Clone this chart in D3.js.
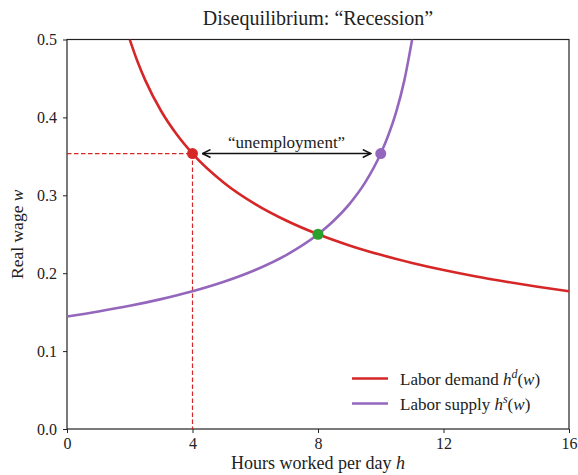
<!DOCTYPE html>
<html>
<head>
<meta charset="utf-8">
<script src="https://cdn.jsdelivr.net/npm/d3@7"></script>
<style>
  body { margin: 0; background: #fff; }
  svg text { font-family: "Liberation Serif", "DejaVu Serif", serif; fill: #222; }
</style>
</head>
<body>
<div id="chart"></div>
<script>
// values
const demandH = [2, 2.25, 2.5, 3, 3.5, 4, 5, 6, 7, 8, 9, 10, 11, 12, 13, 14, 15, 16];
const demandW = [0.5, 0.4714, 0.4472, 0.4082, 0.378, 0.3536, 0.3162, 0.2887, 0.2673, 0.25,
                 0.2357, 0.2236, 0.2132, 0.2041, 0.1961, 0.189, 0.1826, 0.1768];
const supplyH = [0, 1, 2, 3, 4, 5, 6, 7, 8, 8.5, 9, 9.5, 10, 10.25, 10.5, 10.75, 11];
const supplyW = [0.1443, 0.1508, 0.1581, 0.1667, 0.1768, 0.189, 0.2041, 0.2236, 0.25, 0.2673,
                 0.2887, 0.3162, 0.3536, 0.378, 0.4082, 0.4472, 0.5];
const xTicks = [0, 4, 8, 12, 16];
const yTicks = [0.0, 0.1, 0.2, 0.3, 0.4, 0.5];
const fixedWage = 0.3536;
const demandAtWage = 4;
const supplyAtWage = 10;
const equilibrium = [8, 0.25];

const width = 578, height = 475;
const margin = {left: 67, right: 9, top: 39.5, bottom: 46};
const red = "#d62728", purple = "#9467bd", green = "#2ca02c";

const svg = d3.select("#chart").append("svg")
    .attr("width", width)
    .attr("height", height);

const x = d3.scaleLinear().domain([0, 16]).range([margin.left, width - margin.right]);
const y = d3.scaleLinear().domain([0, 0.5]).range([height - margin.bottom, margin.top]);

svg.append("defs").append("clipPath").attr("id", "clip")
  .append("rect")
    .attr("x", x(0)).attr("y", y(0.5))
    .attr("width", x(16) - x(0)).attr("height", y(0) - y(0.5));

// axes
const xAxis = svg.append("g")
    .attr("transform", `translate(0,${y(0)})`)
    .call(d3.axisBottom(x).tickValues(xTicks).tickSize(4).tickPadding(5).tickFormat(d3.format("d")));
const yAxis = svg.append("g")
    .attr("transform", `translate(${x(0)},0)`)
    .call(d3.axisLeft(y).tickValues(yTicks).tickSize(4).tickPadding(6).tickFormat(d3.format(".1f")));
[xAxis, yAxis].forEach(g => {
  g.attr("font-family", "Liberation Serif").attr("font-size", 16);
  g.select(".domain").remove();
  g.selectAll(".tick line").attr("stroke", "#222").attr("stroke-width", 1);
  g.selectAll(".tick text").attr("fill", "#222");
});

// frame
svg.append("rect")
    .attr("x", x(0)).attr("y", y(0.5))
    .attr("width", x(16) - x(0)).attr("height", y(0) - y(0.5))
    .attr("fill", "none").attr("stroke", "#222").attr("stroke-width", 1.2);

const plot = svg.append("g").attr("clip-path", "url(#clip)");

// dashed guides
plot.append("line")
    .attr("x1", x(0)).attr("x2", x(demandAtWage))
    .attr("y1", y(fixedWage)).attr("y2", y(fixedWage))
    .attr("stroke", red).attr("stroke-width", 1.2).attr("stroke-dasharray", "4.5,2.5");
plot.append("line")
    .attr("x1", x(demandAtWage)).attr("x2", x(demandAtWage))
    .attr("y1", y(fixedWage)).attr("y2", y(0))
    .attr("stroke", red).attr("stroke-width", 1.2).attr("stroke-dasharray", "4.5,2.5");

const line = d3.line()
    .x(d => x(d[0]))
    .y(d => y(d[1]))
    .curve(d3.curveMonotoneX);

plot.append("path")
    .datum(d3.zip(demandH, demandW))
    .attr("d", line)
    .attr("fill", "none").attr("stroke", red).attr("stroke-width", 2.6);
plot.append("path")
    .datum(d3.zip(supplyH, supplyW))
    .attr("d", line)
    .attr("fill", "none").attr("stroke", purple).attr("stroke-width", 2.6);

// unemployment arrow
svg.append("defs").append("marker")
    .attr("id", "head")
    .attr("viewBox", "0 0 10 10")
    .attr("refX", 9).attr("refY", 5)
    .attr("markerWidth", 10).attr("markerHeight", 10)
    .attr("markerUnits", "userSpaceOnUse")
    .attr("orient", "auto-start-reverse")
  .append("path")
    .attr("d", "M1,1 L9,5 L1,9")
    .attr("fill", "none").attr("stroke", "#111").attr("stroke-width", 1.5);

svg.append("line")
    .attr("x1", x(demandAtWage) + 10).attr("x2", x(supplyAtWage) - 10)
    .attr("y1", y(fixedWage)).attr("y2", y(fixedWage))
    .attr("stroke", "#111").attr("stroke-width", 1.5)
    .attr("marker-start", "url(#head)")
    .attr("marker-end", "url(#head)");

svg.append("text")
    .attr("x", (x(demandAtWage) + x(supplyAtWage)) / 2)
    .attr("y", y(fixedWage) - 6)
    .attr("text-anchor", "middle")
    .attr("font-size", 17)
    .text("“unemployment”");

// points
const dots = [[demandAtWage, fixedWage, red], [supplyAtWage, fixedWage, purple], [equilibrium[0], equilibrium[1], green]];
svg.selectAll(".dot")
  .data(dots)
  .enter().append("circle")
    .attr("class", "dot")
    .attr("cx", d => x(d[0]))
    .attr("cy", d => y(d[1]))
    .attr("r", 5.5)
    .attr("fill", d => d[2]);

// title and axis labels
svg.append("text")
    .attr("x", (x(0) + x(16)) / 2)
    .attr("y", 25)
    .attr("text-anchor", "middle")
    .attr("font-size", 20)
    .text("Disequilibrium:  “Recession”");

const xl = svg.append("text")
    .attr("x", (x(0) + x(16)) / 2)
    .attr("y", 469)
    .attr("text-anchor", "middle")
    .attr("font-size", 18);
xl.append("tspan").text("Hours worked per day ");
xl.append("tspan").attr("font-style", "italic").text("h");

const yl = svg.append("text")
    .attr("transform", `translate(23,${(y(0) + y(0.5)) / 2}) rotate(-90)`)
    .attr("text-anchor", "middle")
    .attr("font-size", 17.5);
yl.append("tspan").text("Real wage ");
yl.append("tspan").attr("font-style", "italic").text("w");

// legend
const legendItems = [["Labor demand ", "d", red], ["Labor supply ", "s", purple]];
const legend = svg.selectAll(".legend")
  .data(legendItems)
  .enter().append("g")
    .attr("class", "legend")
    .attr("transform", (d, i) => `translate(352,${378.5 + i * 25})`);
legend.append("line")
    .attr("x1", 0).attr("x2", 36)
    .attr("stroke", d => d[2]).attr("stroke-width", 2.6);
const lt = legend.append("text")
    .attr("x", 48).attr("y", 6)
    .attr("font-size", 17);
lt.append("tspan").text(d => d[0]);
lt.append("tspan").attr("font-style", "italic").text("h");
lt.append("tspan").attr("font-size", 12).attr("dy", -7).attr("font-style", "italic").text(d => d[1]);
lt.append("tspan").attr("dy", 7).text("(");
lt.append("tspan").attr("font-style", "italic").text("w");
lt.append("tspan").text(")");
</script>
</body>
</html>
